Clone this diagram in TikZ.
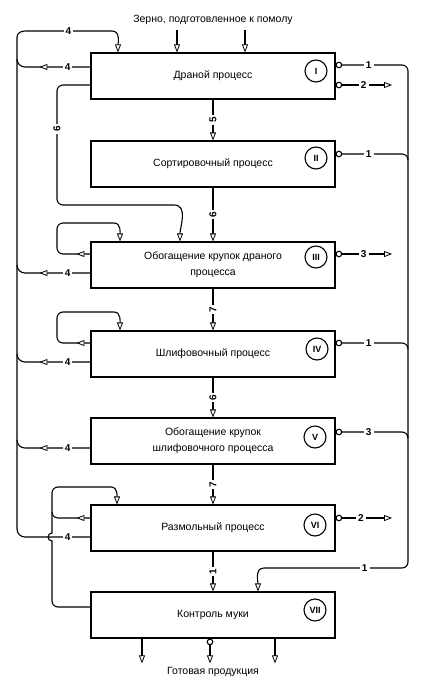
\documentclass[tikz,border=0pt]{standalone}
\usepackage{fontspec}
\setmainfont{Liberation Sans}
\usetikzlibrary{arrows,arrows.meta,decorations.markings}

\begin{document}
\begin{tikzpicture}[->,>={Triangle[length=8pt,width=6pt,fill=white,line width=0.8pt]},x=1pt,y=-1pt,line width=1.1pt,
  font=\fontsize{10.5}{12}\selectfont,
  main node/.style={rectangle,draw,-,minimum width=244pt,minimum height=46pt,align=center},
  num node/.style={circle,draw,-,minimum size=22pt,inner sep=0pt,font=\small\bfseries},
  lbl/.style={fill=white,inner sep=2pt,font=\fontsize{10}{12}\selectfont\bfseries},
  midarrow/.style={postaction={decorate},decoration={markings,mark=at position #1 with {\arrow{>}}}}]

  \useasboundingbox (0,0) rectangle (431,685);

  \node (in) at (213,20) {Зерно, подготовленное к помолу};
  \node[main node] (1) at (213,76) {Драной процесс};
  \node[main node] (2) at (213,164) {Сортировочный процесс};
  \node[main node] (3) at (213,265) {Обогащение крупок драного\\[4pt]процесса};
  \node[main node] (4) at (213,354) {Шлифовочный процесс};
  \node[main node] (5) at (213,441) {Обогащение крупок\\[4pt]шлифовочного процесса};
  \node[main node] (6) at (213,528) {Размольный процесс};
  \node[main node] (7) at (213,615) {Контроль муки};
  \node (out) at (213,672) {Готовая продукция};

  \node[num node] (r1) at (316,71) {I};
  \node[num node] (r2) at (316,158) {II};
  \node[num node] (r3) at (316,257) {III};
  \node[num node] (r4) at (317,349) {IV};
  \node[num node] (r5) at (315,437) {V};
  \node[num node] (r6) at (315,525) {VI};
  \node[num node] (r7) at (315,610) {VII};

  \coordinate (lft) at (17,529);

  % grain in
  \draw ([xshift=-36pt,yshift=22pt]1.north) -- ([xshift=-36pt]1.north);
  \draw ([xshift=32pt,yshift=22pt]1.north) -- ([xshift=32pt]1.north);

  % flow down the middle
  \path (1) edge node[lbl,rotate=90] {5} (2)
        (2) edge node[lbl,rotate=90] {6} (3)
        (3) edge node[lbl,rotate=90] {7} (4)
        (4) edge node[lbl,rotate=90] {6} (5)
        (5) edge node[lbl,rotate=90] {7} (6)
        (6) edge node[lbl,rotate=90] {1} (7);

  % return 4 on the left
  \draw (lft) -- (17,37) to[out=90,in=180] (25,31) -- node[lbl] {4} (112,31)
    to[out=0,in=90] ([xshift=-95pt]1.north);
  \draw[-,midarrow=51pt] ([yshift=9pt]1.west) -- node[lbl,pos=0.35] {4} (25,67) to[out=180,in=-90] (17,59);
  \draw[-,midarrow=51pt] ([yshift=-8pt]3.west) -- node[lbl,pos=0.35] {4} (25,273) to[out=180,in=-90] (17,265);
  \draw[-,midarrow=51pt] ([yshift=-8pt]4.west) -- node[lbl,pos=0.35] {4} (25,362) to[out=180,in=-90] (17,354);
  \draw[-,midarrow=51pt] ([yshift=-7pt]5.west) -- node[lbl,pos=0.35] {4} (25,448) to[out=180,in=-90] (17,440);
  \draw[-] ([yshift=-9pt]6.west) -- node[lbl,pos=0.35] {4} (25,537) to[out=180,in=-90] (lft);

  % 6 from I to III
  \draw ([yshift=-9pt]1.west) -- (63,85) to[out=180,in=90] (57,91)
    -- node[lbl,rotate=90,pos=0.35] {6} (57,199) to[out=-90,in=180] (63,205)
    -- (174,205) to[out=0,in=90] ([xshift=-33pt]3.north);

  % loops back into the same process
  \draw[midarrow=14pt] ([yshift=11pt]3.west) -- (63,254) to[out=180,in=-90] (57,248) -- (57,229)
    to[out=90,in=180] (63,223) -- (114,223) to[out=0,in=90] ([xshift=-93pt]3.north);
  \draw[midarrow=14pt] ([yshift=11pt]4.west) -- (63,343) to[out=180,in=-90] (57,337) -- (57,318)
    to[out=90,in=180] (63,312) -- (114,312) to[out=0,in=90] ([xshift=-93pt]4.north);
  \draw[-,midarrow=14pt] ([yshift=10pt]6.west) -- (58,518) to[out=180,in=-90] (52,512);
  \draw ([yshift=8pt]7.west) -- (58,607) to[out=180,in=-90] (52,601) -- (52,541)
    arc[start angle=270,end angle=90,radius=4pt] -- (52,493)
    to[out=90,in=180] (58,487) -- (111,487) to[out=0,in=90] ([xshift=-96pt]6.north);

  % 1 on the right, to flour control
  \draw[o->] ([yshift=11pt]1.east) -- node[lbl] {1} (402,65) to[out=0,in=90] (408,71) -- (408,562)
    to[out=-90,in=0] (402,568) -- node[lbl,pos=0.27] {1} (264,568) to[out=180,in=90] ([xshift=45pt]7.north);
  \draw[o-] ([yshift=10pt]2.east) -- node[lbl] {1} (402,154) to[out=0,in=90] (408,160);
  \draw[o-] ([yshift=11pt]4.east) -- node[lbl] {1} (402,343) to[out=0,in=90] (408,349);
  \draw[o-] ([yshift=9pt]5.east) -- node[lbl] {3} (402,432) to[out=0,in=90] (408,438);

  % outputs to the right
  \draw[o->] ([yshift=-9pt]1.east) -- node[lbl] {2} (392,85);
  \draw[o->] ([yshift=11pt]3.east) -- node[lbl] {3} (392,254);
  \draw[o->] ([yshift=10pt]6.east) -- node[lbl,pos=0.45] {2} (392,518);

  % finished product
  \draw ([xshift=-71pt]7.south) -- ([xshift=-71pt]out.north);
  \draw[o->] ([xshift=-3pt]7.south) -- ([xshift=-3pt]out.north);
  \draw ([xshift=62pt]7.south) -- ([xshift=62pt]out.north);
\end{tikzpicture}
\end{document}
